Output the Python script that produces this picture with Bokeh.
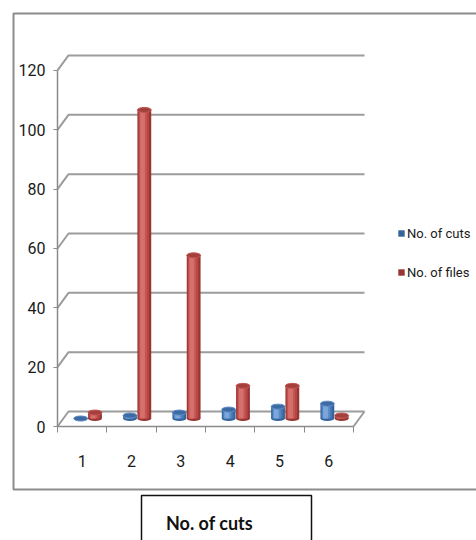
from bokeh.plotting import figure
from bokeh.models import Range1d, FixedTicker, Label, Legend, LegendItem
from bokeh.embed import file_html
from bokeh.resources import INLINE

# ---- data -------------------------------------------------------------
categories = ["1", "2", "3", "4", "5", "6"]
cuts = [0, 1, 2, 3, 4, 5]
files = [2, 104, 55, 11, 11, 1]
y_ticks = [0, 20, 40, 60, 80, 100, 120]
series_names = ["No. of cuts", "No. of files"]
axis_title = "No. of cuts"

# ---- layout constants (canvas pixels) --------------------------------
W, H = 476, 540
AX_L, AX_R, AX_B = 57, 353, 426            # front floor edge / value axis foot
PX_PER_CAT = (AX_R - AX_L) / len(categories)
PX_PER_UNIT = 2.967
X0 = 0.5


def cx(px):
    """canvas x pixel -> data x"""
    return X0 + (px - AX_L) / PX_PER_CAT


def cy(py):
    """canvas y pixel -> data y"""
    return (AX_B - py) / PX_PER_UNIT


# pseudo-3D depth of the back wall / floor
DX = 11 / PX_PER_CAT
DY = 15 / PX_PER_UNIT
BASE = 8 / PX_PER_UNIT          # bars stand in the middle of the floor
BAR_W = 0.28
CAP_H = 5 / PX_PER_UNIT

FONT = "Roboto"
GRID = "#9c9c9c"
AXIS = "#8a8a8a"
TEXT = "#1a1a1a"

p = figure(width=W, height=H,
           x_range=Range1d(cx(0), cx(W)), y_range=Range1d(cy(H), cy(0)),
           output_backend="svg", toolbar_location=None,
           min_border_left=0, min_border_right=0,
           min_border_top=0, min_border_bottom=0)
p.outline_line_color = None
p.grid.visible = False
p.background_fill_color = "white"

# ---- outer chart border and axis-title box ---------------------------
p.quad(left=cx(13), right=cx(530), top=cy(13), bottom=cy(489),
       fill_alpha=0, line_color="#8c8c8c", line_width=2)
p.quad(left=cx(141), right=cx(311), top=cy(495), bottom=cy(580),
       fill_alpha=0, line_color="#111111", line_width=1.5)

# ---- back wall gridlines and floor -----------------------------------
n = len(categories)
gx, gy = [], []
for v in y_ticks:
    gx.append([X0, X0 + DX, X0 + n + DX])
    gy.append([v, v + DY, v + DY])
gx.append([X0 + n, X0 + n + DX])
gy.append([0, DY])
p.multi_line(gx, gy, line_color=GRID, line_width=2)

# ---- cylinders --------------------------------------------------------
xs = list(range(1, n + 1))
series = [
    (cuts, -0.03, ["#35639b", "#4677b5", "#5b8bc8", "#7da6da"], "#3d6aa3"),
    (files, 0.26, ["#963532", "#b34744", "#c45552", "#d6706d"], "#a3403d"),
]
bodies = []
for vals, off, shades, cap in series:
    bx = [x + off for x in xs]
    tops = [BASE + v for v in vals]
    p.ellipse(x=bx, y=[BASE] * n, width=BAR_W, height=CAP_H,
              fill_color=shades[0], line_color=None)
    body = None
    for k, col in enumerate(shades):
        r = p.vbar(x=[b - 0.012 * k for b in bx], bottom=BASE, top=tops,
                   width=BAR_W * (1 - 0.22 * k), fill_color=col, line_color=None)
        if body is None:
            body = r
    bodies.append(body)
    p.ellipse(x=bx, y=tops, width=BAR_W, height=CAP_H,
              fill_color=cap, line_color=shades[2], line_width=1)

# ---- axes (pinned to the front edge of the floor) --------------------
ya = p.yaxis[0]
ya.fixed_location = X0
ya.ticker = FixedTicker(ticks=y_ticks)
ya.bounds = (0, 120)
ya.axis_line_color = AXIS
ya.axis_line_width = 1.5
ya.major_tick_line_color = AXIS
ya.major_tick_out = 4
ya.major_tick_in = 0
ya.minor_tick_line_color = None
ya.major_label_standoff = 8
ya.major_label_text_font = FONT
ya.major_label_text_font_size = "16px"
ya.major_label_text_color = TEXT

xa = p.xaxis[0]
xa.fixed_location = 0
xa.ticker = FixedTicker(ticks=xs, minor_ticks=[X0 + i for i in range(n + 1)])
xa.bounds = (X0, X0 + n)
xa.major_label_overrides = {x: c for x, c in zip(xs, categories)}
xa.axis_line_color = AXIS
xa.axis_line_width = 1.5
xa.major_tick_line_color = None
xa.major_tick_out = 0
xa.major_tick_in = 0
xa.minor_tick_line_color = AXIS
xa.minor_tick_out = 6
xa.minor_tick_in = 0
xa.major_label_standoff = 22
xa.major_label_text_font = FONT
xa.major_label_text_font_size = "16px"
xa.major_label_text_color = TEXT

# ---- legend -----------------------------------------------------------
legend = Legend(items=[LegendItem(label=series_names[0], renderers=[bodies[0]]),
                       LegendItem(label=series_names[1], renderers=[bodies[1]])],
                location=(397, H - 282))
legend.background_fill_alpha = 0
legend.border_line_alpha = 0
legend.padding = 0
legend.spacing = 19
legend.glyph_width = 8
legend.glyph_height = 8
legend.label_height = 20
legend.label_standoff = 2
legend.label_text_font = FONT
legend.label_text_font_size = "13px"
legend.label_text_color = TEXT
p.add_layout(legend)

# ---- axis title -------------------------------------------------------
p.add_layout(Label(x=cx(209), y=cy(522), text=axis_title,
                   text_align="center", text_baseline="middle",
                   text_font="Lato", text_font_style="bold",
                   text_font_size="18px", text_color="#111111"))

open("out.html", "w").write(file_html(p, INLINE))
